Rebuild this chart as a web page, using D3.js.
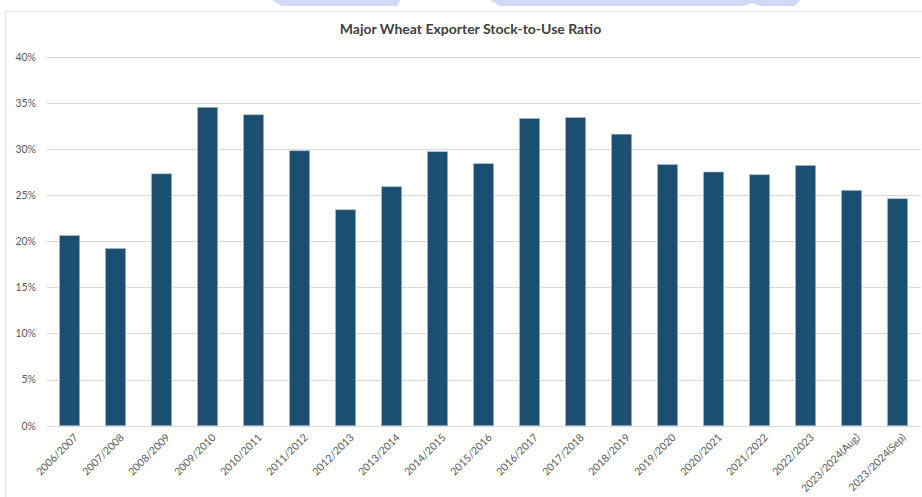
<!DOCTYPE html>
<html><head><meta charset="utf-8">
<script src="https://cdn.jsdelivr.net/npm/d3@7"></script>
<style>
html,body{margin:0;padding:0;background:#fff;}
svg{display:block;}
</style></head>
<body>
<svg id="chart" width="922" height="497"></svg>
<script>
const categories = ["2006/2007","2007/2008","2008/2009","2009/2010","2010/2011","2011/2012","2012/2013","2013/2014","2014/2015","2015/2016","2016/2017","2017/2018","2018/2019","2019/2020","2020/2021","2021/2022","2022/2023","2023/2024(Aug)","2023/2024(Sep)"];
const ratios = [0.206,0.192,0.273,0.345,0.337,0.298,0.234,0.259,0.297,0.284,0.333,0.334,0.316,0.283,0.275,0.272,0.282,0.255,0.246];
const yTicks = [0,0.05,0.10,0.15,0.20,0.25,0.30,0.35,0.40];
const title = "Major Wheat Exporter Stock-to-Use Ratio";

const svg = d3.select("#chart");
const font = "Lato, 'Open Sans', sans-serif";

// watermark decoration at top
const wm = [
  [[272,0],[400,0],[397,6],[282,6]],
  [[490,0],[800,0],[795,6],[760,6],[752,3],[744,6],[500,6]]
];
svg.selectAll("polygon.wm").data(wm).join("polygon")
  .attr("points", d => d.map(p => p.join(",")).join(" "))
  .attr("fill", "#d0d9f7");

// chart frame
svg.append("path").attr("d","M5.5,497 L5.5,11.5 L922,11.5")
  .attr("fill","none").attr("stroke","#e6e6e6").attr("stroke-width",1.5);

const x = d3.scaleBand().domain(categories).range([46.6, 920.6]).paddingInner(0.565).paddingOuter(0.2825);
const y = d3.scaleLinear().domain([0,0.40]).range([425.7, 56.7]);

// gridlines
svg.append("g").selectAll("line").data(yTicks).join("line")
  .attr("x1", 46.6).attr("x2", 920.6)
  .attr("y1", d => Math.round(y(d))+0.5).attr("y2", d => Math.round(y(d))+0.5)
  .attr("stroke", "#d9d9d9").attr("stroke-width", 1);

// y axis labels
const yAxis = d3.axisLeft(y).tickValues(yTicks).tickFormat(d3.format(".0%")).tickSize(0).tickPadding(0);
const gy = svg.append("g").attr("transform","translate(36,0)").call(yAxis);
gy.select(".domain").remove();
gy.selectAll("text").attr("fill","#595959").style("font-family",font).style("font-size","10.5px");

// bars
svg.append("g").selectAll("rect").data(ratios).join("rect")
  .attr("x", (d,i) => x(categories[i]))
  .attr("width", x.bandwidth())
  .attr("y", d => y(d))
  .attr("height", d => y(0) - y(d))
  .attr("fill", "#1b4f72")
  .attr("stroke", "#9db3c6").attr("stroke-width", 0.6);

// x axis labels
const xAxis = d3.axisBottom(x).tickSize(0).tickPadding(0);
const gx = svg.append("g").attr("transform","translate(0,432)").call(xAxis);
gx.select(".domain").remove();
gx.selectAll("text")
  .attr("fill","#595959").style("font-family",font).style("font-size","10.5px")
  .attr("text-anchor","end").attr("dy","0.35em").attr("x",2).attr("y",7)
  .attr("transform","rotate(-45)");

// title
svg.append("text").attr("x", 470.5).attr("y", 34)
  .attr("text-anchor","middle")
  .attr("fill","#404040").style("font-family",font).style("font-size","14px").style("font-weight","bold")
  .text(title);
</script>
</body></html>
